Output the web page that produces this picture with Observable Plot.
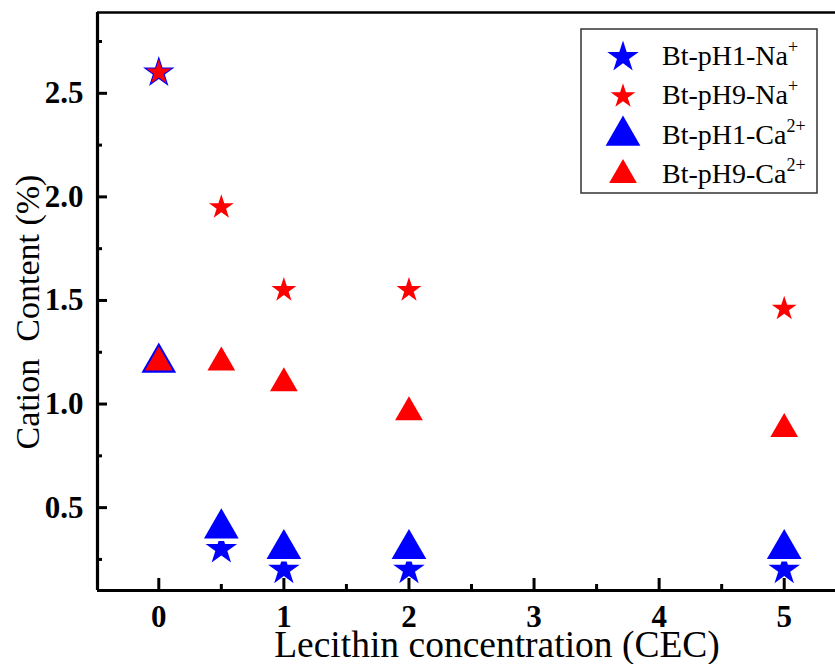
<!DOCTYPE html>
<html><head><meta charset="utf-8">
<script src="https://cdn.jsdelivr.net/npm/d3@7"></script>
<script src="https://cdn.jsdelivr.net/npm/@observablehq/plot@0.6"></script>
<style>
body{margin:0;background:#fff;}
#chart{width:835px;height:664px;overflow:hidden;}
</style>
</head><body><div id="chart"></div>
<script>
// ---- data ----
const lecithin = [0, 0.5, 1, 2, 5];
const pH1Na = [2.6, 0.3, 0.2, 0.2, 0.2];
const pH9Na = [2.6, 1.95, 1.55, 1.55, 1.46];
const pH1Ca = [1.2, 0.4, 0.3, 0.3, 0.3];
const pH9Ca = [1.2, 1.2, 1.1, 0.96, 0.88];
const seriesNames = ["Bt-pH1-Na", "Bt-pH9-Na", "Bt-pH1-Ca", "Bt-pH9-Ca"];
const seriesSup = ["+", "+", "2+", "2+"];
const seriesValues = [pH1Na, pH9Na, pH1Ca, pH9Ca];
const seriesColors = ["#0000ff", "#ff0000", "#0000ff", "#ff0000"];
const seriesSymbols = ["star", "star", "triangle", "triangle"];
const seriesR = [9.9, 7.8, 12.9, 10.3];
const xTicks = [0, 1, 2, 3, 4, 5];
const xMinor = [0.5, 1.5, 2.5, 3.5, 4.5];
const yTicks = [0.5, 1.0, 1.5, 2.0, 2.5];
const yMinor = [0.25, 0.75, 1.25, 1.75, 2.25, 2.75];
const xDomain = [-0.49, 5.41];
const yDomain = [0.1, 2.89];
const xTitle = "Lecithin concentration (CEC)";
const yTitle = "Cation  Content (%)";

// ---- layout ----
const W = 835, H = 664, mL = 97, mR = 0, mT = 12, mB = 74;
const plotW = W - mL - mR, plotH = H - mT - mB;
const serif = "'Liberation Serif', 'Times New Roman', serif";
const tickFont = 31;

const rows = seriesNames.map((name, s) => lecithin.map((x, i) => ({x, y: seriesValues[s][i], s})));

const dotMarks = rows.map((data, s) => Plot.dot(data, {
  x: "x", y: "y",
  symbol: seriesSymbols[s], r: seriesR[s],
  fill: seriesColors[s],
  ...(s === 2 ? {stroke: "white", strokeWidth: 5, paintOrder: "stroke"} : {})
}));

const chart = Plot.plot({
  width: W, height: H,
  marginLeft: mL, marginRight: mR, marginTop: mT, marginBottom: mB,
  x: {domain: xDomain, axis: null},
  y: {domain: yDomain, axis: null},
  style: {background: "white", fontFamily: serif},
  marks: [
    Plot.tickX(xTicks, {x: d => d, insetTop: plotH - 12, stroke: "#000", strokeWidth: 3}),
    Plot.tickX(xMinor, {x: d => d, insetTop: plotH - 6, stroke: "#000", strokeWidth: 3}),
    Plot.tickY(yTicks, {y: d => d, insetRight: plotW - 10, stroke: "#000", strokeWidth: 3}),
    Plot.tickY(yMinor, {y: d => d, insetRight: plotW - 5, stroke: "#000", strokeWidth: 3}),
    ...dotMarks,
    Plot.ruleY([yDomain[0]], {stroke: "#000", strokeWidth: 3.2}),
    Plot.ruleY([yDomain[1]], {stroke: "#000", strokeWidth: 2.6}),
    Plot.ruleX([xDomain[0]], {stroke: "#000", strokeWidth: 3.2}),
    Plot.text(xTicks, {x: d => d, text: d => String(d), frameAnchor: "bottom", lineAnchor: "top", dy: 14,
      fontSize: tickFont, fontWeight: "bold", fontFamily: serif, fill: "#000"}),
    Plot.text(yTicks, {y: d => d, text: d => d.toFixed(1), frameAnchor: "left", textAnchor: "end", dx: -14,
      fontSize: tickFont, fontWeight: "bold", fontFamily: serif, fill: "#000"})
  ]
});
document.getElementById("chart").appendChild(chart);

const svg = d3.select(chart);
// make sure tick label font size is applied on the text elements
svg.selectAll('g[aria-label="text"] text').style("font-size", tickFont + "px").style("font-weight", "bold");

// axis titles
svg.append("text").attr("x", 497).attr("y", 657).attr("text-anchor", "middle")
  .attr("font-family", serif).attr("font-size", 37.5).attr("fill", "#000").text(xTitle);
svg.append("text").attr("transform", "translate(39,312) rotate(-90)").attr("text-anchor", "middle")
  .attr("xml:space", "preserve").style("white-space", "pre")
  .attr("font-family", serif).attr("font-size", 34).attr("fill", "#000").text(yTitle);

// legend
const lg = svg.append("g");
lg.append("rect").attr("x", 581).attr("y", 29).attr("width", 236).attr("height", 164)
  .attr("fill", "white").attr("stroke", "#333").attr("stroke-width", 1.5);
const symMap = {star: d3.symbolStar, triangle: d3.symbolTriangle};
seriesNames.forEach((name, i) => {
  const base = 65 + i * 39.3;
  lg.append("path")
    .attr("transform", `translate(623,${base - 8})`)
    .attr("d", d3.symbol(symMap[seriesSymbols[i]], Math.PI * seriesR[i] * seriesR[i])())
    .attr("fill", seriesColors[i]);
  const t = lg.append("text").attr("x", 662).attr("y", base).attr("text-anchor", "start")
    .attr("font-family", serif).attr("font-size", 28).attr("fill", "#000");
  t.append("tspan").text(name);
  t.append("tspan").attr("dy", -12).attr("font-size", 18).text(seriesSup[i]);
});
</script>
</body></html>
